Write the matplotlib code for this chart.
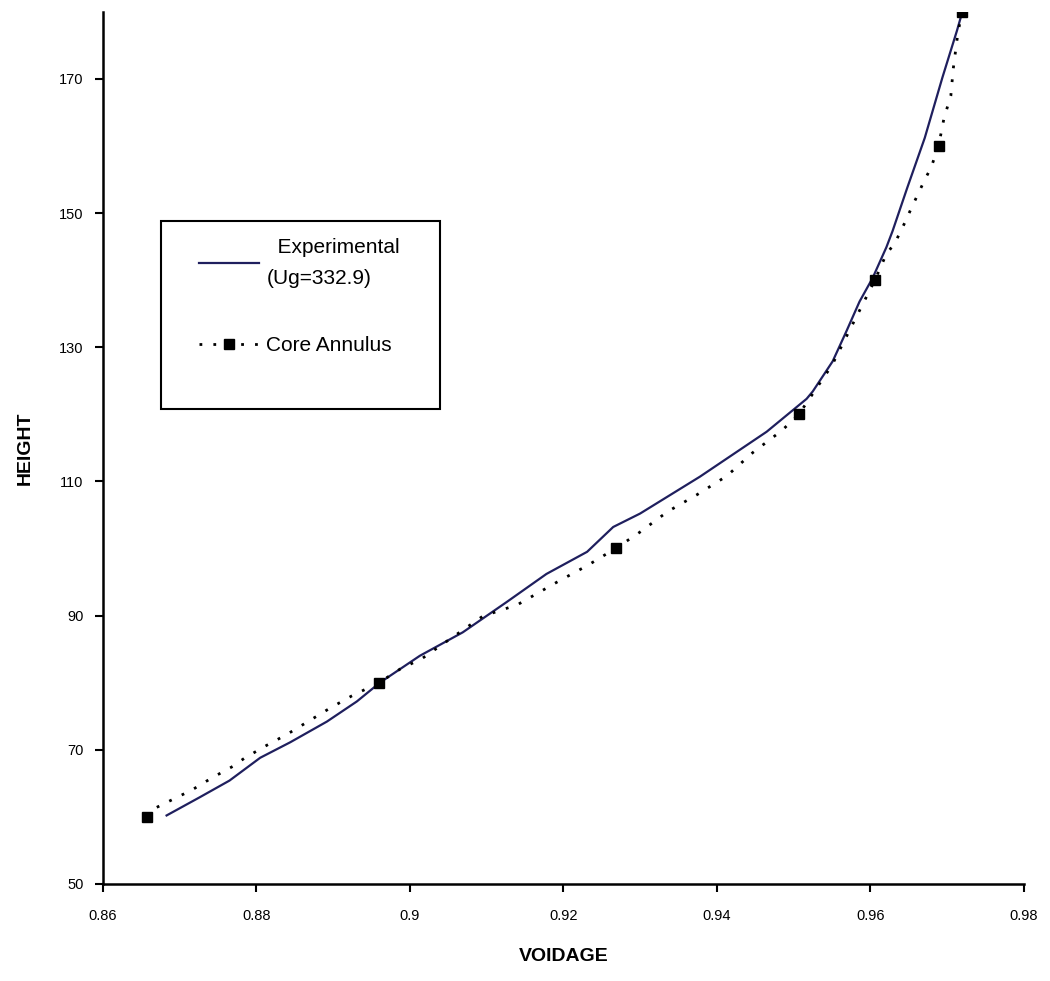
import matplotlib
matplotlib.use('Agg')
import matplotlib.pyplot as plt
from matplotlib.patches import Rectangle

plt.rcParams['font.family'] = ['Liberation Sans', 'DejaVu Sans']

# Experimental profile (Ug=332.9)
exp_voidage = [0.8683, 0.8726, 0.8765, 0.8805, 0.8844, 0.8892, 0.8931, 0.8961,
               0.9013, 0.9069, 0.9126, 0.9178, 0.9231, 0.9265, 0.9300, 0.9378,
               0.9465, 0.9517, 0.9525, 0.9551, 0.9569, 0.9586, 0.9603, 0.9621,
               0.9629, 0.9648, 0.9671, 0.9694, 0.9713, 0.9719]
exp_height = [60.2, 62.9, 65.4, 68.8, 71.1, 74.2, 77.2, 80.0,
              84.0, 87.5, 92.0, 96.2, 99.5, 103.2, 105.2, 110.7,
              117.4, 122.3, 123.4, 127.9, 132.4, 136.8, 140.3, 144.9,
              147.3, 153.7, 161.2, 170.2, 177.2, 179.6]

# Core annulus model curve
core_voidage = [0.8657, 0.8670, 0.8716, 0.8742, 0.8769, 0.8784, 0.8811, 0.8840,
                0.8896, 0.8924, 0.8960, 0.8987, 0.9016, 0.9095, 0.9140, 0.9192,
                0.9232, 0.9268, 0.9297, 0.9336, 0.9374, 0.9413, 0.9447, 0.9485,
                0.9507, 0.9550, 0.9606, 0.9621, 0.9632, 0.9646, 0.9653, 0.9672,
                0.9679, 0.9689, 0.9696, 0.9705, 0.9708, 0.9713, 0.9719]
core_height = [60.0, 61.4, 64.0, 65.8, 67.5, 68.7, 70.5, 72.3,
               76.2, 78.0, 80.0, 82.0, 83.6, 89.9, 91.6, 95.0,
               97.5, 100.0, 102.2, 105.5, 108.0, 110.8, 114.3, 117.6,
               120.0, 127.3, 140.0, 143.9, 145.5, 148.8, 150.6, 155.2,
               156.7, 160.0, 164.1, 167.5, 171.4, 175.8, 180.0]
# indices of the points that carry a square marker (every 20 of height)
core_marked = [0, 10, 17, 24, 26, 33, 38]

x_ticks = [0.86, 0.88, 0.9, 0.92, 0.94, 0.96, 0.98]
x_ticklabels = ['0.86', '0.88', '0.9', '0.92', '0.94', '0.96', '0.98']
y_ticks = [50, 70, 90, 110, 130, 150, 170]

fig = plt.figure(figsize=(10.5, 9.81), dpi=100)
ax = fig.add_axes([0.098, 0.099, 0.877, 0.889])

ax.plot(exp_voidage, exp_height, '-', color='#1f1f5e', linewidth=1.6,
        label='  Experimental\n(Ug=332.9)')
ax.plot(core_voidage, core_height, linestyle=(0, (1, 4)), color='black',
        linewidth=2, marker='s', markersize=7, markevery=core_marked,
        label='Core Annulus')

ax.set_xlim(0.86, 0.98)
ax.set_ylim(50, 180)
ax.set_xticks(x_ticks)
ax.set_xticklabels(x_ticklabels)
ax.set_yticks(y_ticks)
ax.tick_params(direction='out', length=6, width=1.5, labelsize=10.5)
ax.tick_params(axis='x', pad=12)
ax.tick_params(axis='y', pad=8)

for side in ['top', 'right']:
    ax.spines[side].set_visible(False)
for side in ['left', 'bottom']:
    ax.spines[side].set_linewidth(1.8)

ax.set_xlabel('VOIDAGE', fontsize=14, fontweight='bold', labelpad=18)
ax.set_ylabel('HEIGHT', fontsize=14, fontweight='bold', labelpad=18)

# legend box (drawn separately so it can be larger than its content)
ax.add_patch(Rectangle((0.063, 0.544), 0.303, 0.216, transform=ax.transAxes,
                       facecolor='white', edgecolor='black', linewidth=1.5,
                       zorder=3))
leg = ax.legend(loc='upper left', bbox_to_anchor=(0.095, 0.750), frameon=False,
                fontsize=15, handlelength=2.9, handletextpad=0.35,
                labelspacing=2.3, borderaxespad=0)
leg.set_zorder(4)
for t in leg.get_texts():
    t.set_multialignment('left')
    t.set_linespacing(1.8)

fig.savefig('out.png', dpi=100)
